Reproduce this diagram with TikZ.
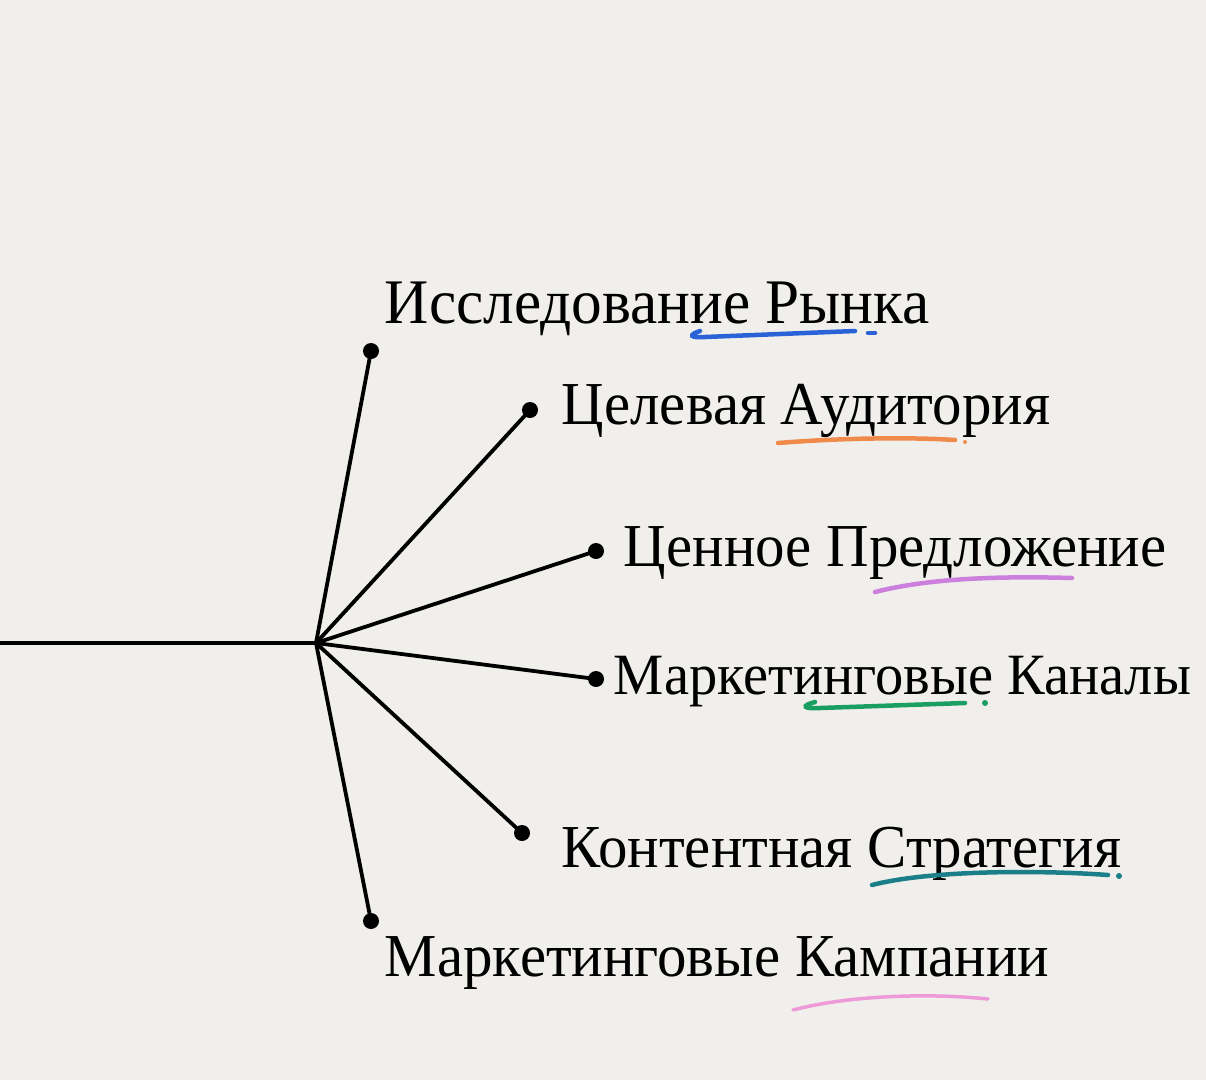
\documentclass[tikz,border=0pt]{standalone}
\usepackage{fontspec}
\setmainfont{Liberation Serif}[FakeStretch=0.965]
\definecolor{paper}{HTML}{F1EFEC}
\definecolor{hlblue}{HTML}{2A62D8}
\definecolor{hlorange}{HTML}{F08A4B}
\definecolor{hlviolet}{HTML}{CC7FDC}
\definecolor{hlgreen}{HTML}{1A9E62}
\definecolor{hlteal}{HTML}{1A7F88}
\definecolor{hlpink}{HTML}{EE9AD8}
\begin{document}
\begin{tikzpicture}[x=1pt,y=-1pt,line width=3.8pt,
	dot/.style={circle,fill=black,inner sep=0pt,minimum size=16pt},
	lbl/.style={anchor=base west,inner sep=0pt,font=\fontsize{61}{70}\selectfont},
	hl/.style={line width=4.5pt,line cap=round}]
	\fill[paper] (0,0) rectangle (1206,1080);
	\useasboundingbox (0,0) rectangle (1206,1080);
	\coordinate (west) at (0,643);
	\coordinate (hub) at (316,643);
	\node[dot] (d1) at (371,351) {};
	\node[dot] (d2) at (530,410) {};
	\node[dot] (d3) at (596,551) {};
	\node[dot] (d4) at (596,679) {};
	\node[dot] (d5) at (522,833) {};
	\node[dot] (d6) at (371,921) {};
	\draw (west) -- (hub);
	\foreach \i in {1,...,6} \draw (hub) -- (d\i.center);
	\node[lbl,font=\fontsize{63.5}{70}\selectfont] (t1) at (383,323) {Исследование Рынка};
	\node[lbl] (t2) at (560,424) {Целевая Аудитория};
	\node[lbl] (t3) at (622,566) {Ценное Предложение};
	\node[lbl,font=\fontsize{58.5}{70}\selectfont] (t4) at (612,694) {Маркетинговые Каналы};
	\node[lbl] (t5) at (560,867) {Контентная Стратегия};
	\node[lbl] (t6) at (383,976) {Маркетинговые Кампании};
	% hand drawn underlines
	\draw[hl,hlblue] (700,331) .. controls (688,335) and (690,338) .. (705,337) -- (855,331);
	\draw[hl,hlblue] (868,333) -- (875,333);
	\draw[hl,hlorange] (778,443) .. controls (840,438) and (910,437) .. (955,440);
	\fill[hlorange] (965,442) circle (2pt);
	\draw[hl,hlviolet] (875,592) .. controls (930,578) and (1000,576) .. (1072,578);
	\draw[hl,hlgreen] (815,702) .. controls (800,706) and (804,709) .. (820,708) -- (965,703);
	\fill[hlgreen] (985,703) circle (3pt);
	\draw[hl,hlteal] (872,885) .. controls (930,870) and (1040,870) .. (1108,875);
	\fill[hlteal] (1119,876) circle (3pt);
	\draw[hl,hlpink,line width=3.5pt] (793,1010) .. controls (850,995) and (930,993) .. (988,999);
\end{tikzpicture}
\end{document}
